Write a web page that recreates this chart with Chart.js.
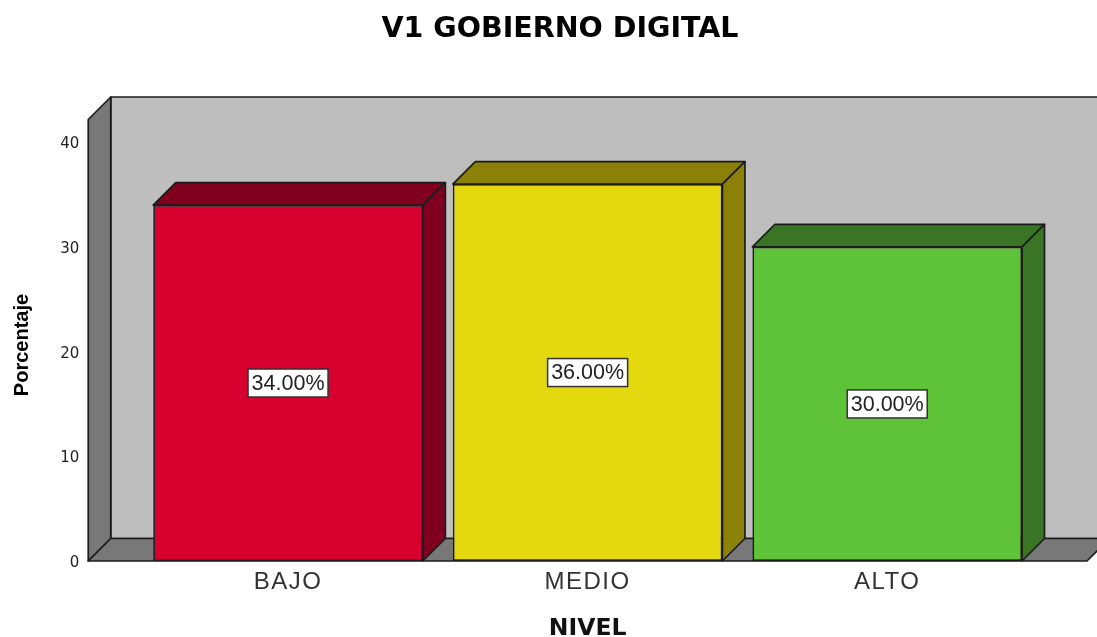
<!DOCTYPE html>
<html><head><meta charset="utf-8">
<style>html,body{margin:0;padding:0;background:#fff;overflow:hidden}canvas{display:block}</style>
<script src="https://cdn.jsdelivr.net/npm/chart.js@4"></script>
</head><body><canvas id="c" width="1097" height="637"></canvas>
<script>
const categories = ['BAJO','MEDIO','ALTO'];
const percentages = [34,36,30];
const frontColors = ['#D7002F','#E4D80E','#5EC338'];
const shadeColors = ['#82001F','#8B8108','#3A7526'];
const chartTitle = 'V1 GOBIERNO DIGITAL';
const xTitle = 'NIVEL';
const yTitle = 'Porcentaje';
const yTicks = [0,10,20,30,40];

const DEPTH_X = 22.5, DEPTH_Y = 22.5, SIDE = 50, LINE = '#1c1c1c';
function poly(ctx, pts, fill){
  ctx.beginPath();
  pts.forEach((p,i)=> i?ctx.lineTo(p[0],p[1]):ctx.moveTo(p[0],p[1]));
  ctx.closePath();
  ctx.fillStyle = fill; ctx.fill();
  ctx.strokeStyle = LINE; ctx.lineWidth = 1.7; ctx.lineJoin='round'; ctx.stroke();
}
const box3d = {
  id:'box3d',
  beforeDraw(chart){
    const ctx = chart.ctx;
    ctx.save();
    ctx.fillStyle='#000'; ctx.textAlign='center'; ctx.textBaseline='middle';
    ctx.font='bold 28.5px "DejaVu Sans"';
    ctx.fillText(chartTitle,560,30);
    ctx.translate(22,345); ctx.rotate(-Math.PI/2);
    ctx.font='bold 20px "Liberation Sans"';
    ctx.fillText(yTitle,0,0);
    ctx.restore();
  },
  beforeDatasetsDraw(chart){
    const {ctx, chartArea:a} = chart;
    const L=a.left-SIDE, R=a.right+SIDE, T=a.top, B=a.bottom;
    ctx.save();
    poly(ctx,[[L+DEPTH_X,T-DEPTH_Y],[R+60,T-DEPTH_Y],[R+60,B-DEPTH_Y],[L+DEPTH_X,B-DEPTH_Y]],'#BEBEBE');
    poly(ctx,[[L,T],[L+DEPTH_X,T-DEPTH_Y],[L+DEPTH_X,B-DEPTH_Y],[L,B]],'#787878');
    poly(ctx,[[L,B],[R,B],[R+DEPTH_X,B-DEPTH_Y],[L+DEPTH_X,B-DEPTH_Y]],'#787878');
    chart.getDatasetMeta(0).data.forEach((bar,i)=>{
      const l=bar.x-bar.width/2, r=bar.x+bar.width/2, t=bar.y, b=bar.base;
      poly(ctx,[[l,t],[l+DEPTH_X,t-DEPTH_Y],[r+DEPTH_X,t-DEPTH_Y],[r,t]],shadeColors[i]);
      poly(ctx,[[r,t],[r+DEPTH_X,t-DEPTH_Y],[r+DEPTH_X,b-DEPTH_Y],[r,b]],shadeColors[i]);
    });
    ctx.restore();
  },
  afterDatasetsDraw(chart){
    const {ctx} = chart;
    ctx.save();
    ctx.font = '21.5px "Liberation Sans"';
    ctx.textAlign='center'; ctx.textBaseline='middle';
    chart.getDatasetMeta(0).data.forEach((bar,i)=>{
      const text = percentages[i].toFixed(2)+'%';
      const cy = (bar.y+bar.base)/2, w=80, h=28;
      ctx.fillStyle='#fff'; ctx.fillRect(bar.x-w/2,cy-h/2,w,h);
      ctx.strokeStyle='#333'; ctx.lineWidth=1.5; ctx.strokeRect(bar.x-w/2,cy-h/2,w,h);
      ctx.fillStyle='#222'; ctx.fillText(text,bar.x,cy+1);
    });
    ctx.restore();
    ctx.letterSpacing='1.5px';   /* the x tick labels (z:1) are drawn after this hook */
  },
  afterDraw(chart){ chart.ctx.letterSpacing='0px'; }
};
new Chart(document.getElementById('c'),{
  type:'bar',
  plugins:[box3d],
  data:{labels:categories,datasets:[{data:percentages,backgroundColor:frontColors,borderColor:LINE,borderWidth:1.7,borderSkipped:false,barPercentage:0.9,categoryPercentage:1}]},
  options:{
    responsive:false,animation:false,
    layout:{padding:{left:0,right:60,top:119.5,bottom:0}},
    plugins:{legend:{display:false},tooltip:{enabled:false},title:{display:false}},
    scales:{
      x:{grid:{display:false},border:{display:false},
        afterFit(s){s.height=76;},
        ticks:{z:1,color:'#333',font:{family:'"Liberation Sans"',size:24},padding:-1,maxRotation:0},
        title:{display:true,text:xTitle,color:'#111',font:{family:'"DejaVu Sans"',size:23.5,weight:'bold',lineHeight:1},padding:{top:0,bottom:-4}}},
      y:{min:0,max:42.17,grid:{display:false},border:{display:false},
        afterFit(s){s.width=138.25;},
        afterBuildTicks(s){s.ticks=yTicks.map(v=>({value:v}));},
        ticks:{color:'#222',font:{family:'"DejaVu Sans"',size:15},padding:51,labelOffset:2}}
    }
  }
});
</script></body></html>
